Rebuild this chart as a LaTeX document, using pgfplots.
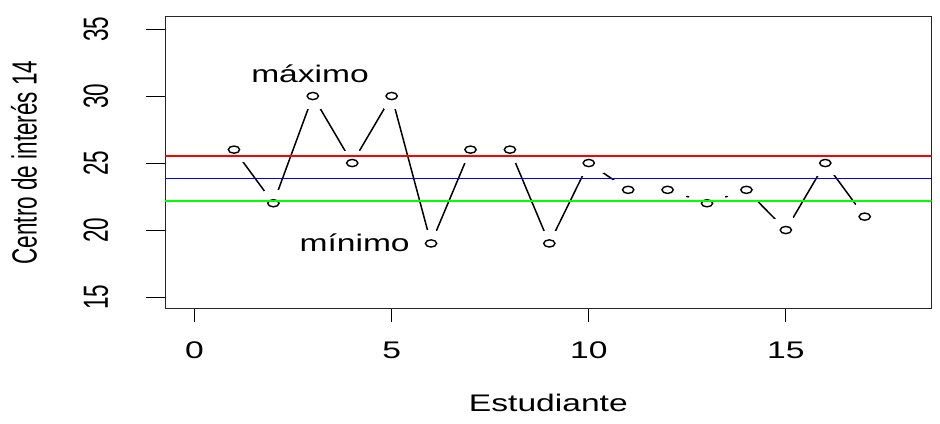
\documentclass[border=0pt]{standalone}
\usepackage{pgfplots}
\pgfplotsset{compat=1.18}
\usepackage{pgfplotstable}
\usepackage{fontspec}
\setmainfont{Liberation Sans}
\newfontfamily\hfont{Liberation Sans}[FakeStretch=1.4]
\newfontfamily\vfont{Liberation Sans}[FakeStretch=0.645]
\newcommand\htext{\hfont\fontsize{24bp}{28bp}\selectfont}
\newcommand\vtext{\vfont\fontsize{34.9bp}{40bp}\selectfont}
\definecolor{rred}{RGB}{255,0,0}
\definecolor{rblue}{RGB}{0,0,255}
\definecolor{rgreen}{RGB}{0,255,0}

\pgfplotstableread{
x y
1 26
2 22
3 30
4 25
5 30
6 19
7 26
8 26
9 19
10 25
11 23
12 23
13 22
14 23
15 20
16 25
17 21
}\datatable

\begin{document}
\begin{tikzpicture}
\useasboundingbox (0,0) rectangle (940bp,424bp);
\pgfplotsset{
  common/.style={
    at={(165bp,115.7bp)}, anchor=south west,
    scale only axis, width=766.7bp, height=291.6bp,
    xmin=-0.75, xmax=18.70, ymin=14.16, ymax=35.92,
    tick align=outside,
    every tick/.style={black, line width=1bp},
    /pgf/number format/assume math mode=true,
  }
}
\begin{axis}[common,
  xtick={0,5,10,15}, ytick=\empty, xtick pos=lower,
  major tick length=13.4bp,
  axis line style={line width=1bp, black!85},
  xticklabel style={font=\htext, anchor=base, yshift=-37bp},
  xlabel={Estudiante},
  xlabel style={font=\htext, at={(axis description cs:0.5,-0.3546)}, anchor=base},
  clip mode=individual]
\addplot[black, line width=1.5bp] table[x=x,y=y] {\datatable};
\addplot[only marks, white, mark=*, mark size=12.9bp,
  mark options={draw=white, fill=white, line width=0pt, xscale=1.59}] table[x=x,y=y] {\datatable};
\addplot[only marks, black, mark=o, mark size=3.6bp,
  mark options={draw=black, line width=1.4bp, xscale=1.57}] table[x=x,y=y] {\datatable};
\addplot[rred, line width=1.3bp] coordinates {(-1,25.52) (20,25.52)};
\addplot[rblue, line width=1.4bp] coordinates {(-1,23.83) (20,23.83)};
\addplot[rgreen, line width=1.6bp] coordinates {(-1,22.16) (20,22.16)};
\node[font=\htext, anchor=base] at (axis cs:2.93,31.0) {máximo};
\node[font=\htext, anchor=base] at (axis cs:4.06,18.38) {mínimo};
\end{axis}
\begin{axis}[common,
  hide x axis, xtick=\empty, ytick={15,20,25,30,35}, ytick pos=left,
  major tick length=19.3bp,
  axis line style={draw=none},
  yticklabel style={font=\vtext, xshift=-37.7bp, rotate=90, anchor=base},
  ylabel={Centro de interés 14},
  ylabel style={font=\vtext, at={(axis description cs:-0.1673,0.5)}, anchor=base}]
\end{axis}
\end{tikzpicture}
\end{document}
